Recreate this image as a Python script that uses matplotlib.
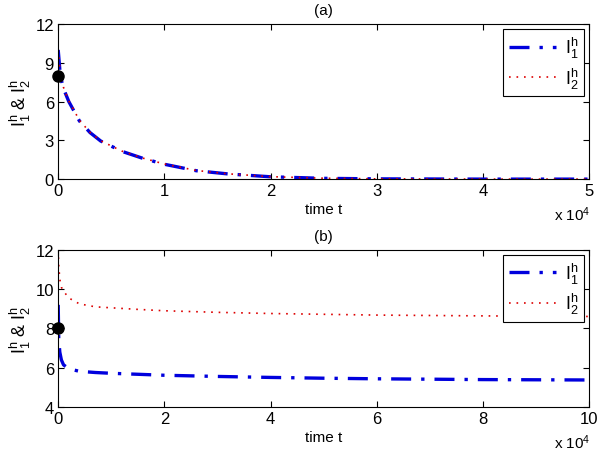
import numpy as np
import matplotlib.pyplot as plt

plt.rcParams['font.family'] = ['Liberation Sans', 'DejaVu Sans']
plt.rcParams['mathtext.default'] = 'regular'

# panel (a), time in units of 1e4
t_a = [0, 0.02, 0.05, 0.1, 0.2, 0.3, 0.4, 0.6, 0.8, 1.0, 1.3, 1.6, 2.0, 2.5, 3.0, 4.0, 5.0]
I1_a = [10.0, 8.0, 7.0, 6.0, 4.5, 3.6, 2.95, 2.15, 1.6, 1.15, 0.65, 0.4, 0.18, 0.06, 0.02, 0.0, 0.0]
I2_a = [10.0, 8.1, 7.1, 6.05, 4.55, 3.62, 2.97, 2.17, 1.62, 1.17, 0.67, 0.41, 0.19, 0.07, 0.02, 0.0, 0.0]

# panel (b)
t_b = [0, 0.01, 0.03, 0.06, 0.1, 0.2, 0.4, 0.7, 1.0, 1.5, 2, 3, 4, 5, 6, 7, 8, 9, 10]
I1_b = [9.2, 7.5, 6.8, 6.4, 6.15, 5.95, 5.82, 5.76, 5.72, 5.67, 5.62, 5.56, 5.51, 5.47, 5.44, 5.42, 5.40, 5.39, 5.38]
I2_b = [12.0, 11.2, 10.5, 10.1, 9.9, 9.55, 9.25, 9.1, 9.05, 8.97, 8.9, 8.82, 8.76, 8.72, 8.68, 8.66, 8.64, 8.62, 8.61]

start_pt = (0, 8)

fig = plt.figure(figsize=(6, 4.56), dpi=100)
ax1 = fig.add_axes([0.097, 0.605, 0.885, 0.34])
ax2 = fig.add_axes([0.097, 0.105, 0.885, 0.345])

panels = [(ax1, t_a, I1_a, I2_a, '(a)', 5, [0, 3, 6, 9, 12], (0, 12)),
          (ax2, t_b, I1_b, I2_b, '(b)', 10, [4, 6, 8, 10, 12], (4, 12))]

for ax, t, i1, i2, ttl, xmax, yt, yl in panels:
    ax.plot(t, i1, color='#0000dd', lw=2.4, dashes=(6, 3, 1, 3), label='$I_1^h$')
    ax.plot(t, i2, color='#dd0000', lw=1.2, dashes=(1, 3.5), label='$I_2^h$')
    ax.plot(*start_pt, 'o', color='k', ms=8, clip_on=False, zorder=5)
    ax.set_xlim(0, xmax)
    ax.set_ylim(*yl)
    ax.set_yticks(yt)
    ax.set_xticks(np.arange(0, xmax + 1, 1 if xmax == 5 else 2))
    ax.tick_params(direction='in', top=True, right=True, labelsize=12, length=4, pad=3)
    ax.set_title(ttl, fontsize=11, pad=7)
    ax.set_xlabel('time t', fontsize=11, labelpad=3)
    ax.set_ylabel('$I_1^h$ & $I_2^h$', fontsize=13, labelpad=2)
    ax.annotate('x 10$^4$', xy=(1, 0), xycoords='axes fraction', xytext=(1, -25),
                textcoords='offset points', ha='right', va='center', fontsize=11)
    leg = ax.legend(loc='upper right', fontsize=13, fancybox=False, framealpha=1,
                    edgecolor='k', handlelength=2.6, borderaxespad=0.3,
                    labelspacing=0.3, borderpad=0.3, handletextpad=0.5)
    leg.get_frame().set_linewidth(0.8)

fig.savefig('out.png', dpi=100)
